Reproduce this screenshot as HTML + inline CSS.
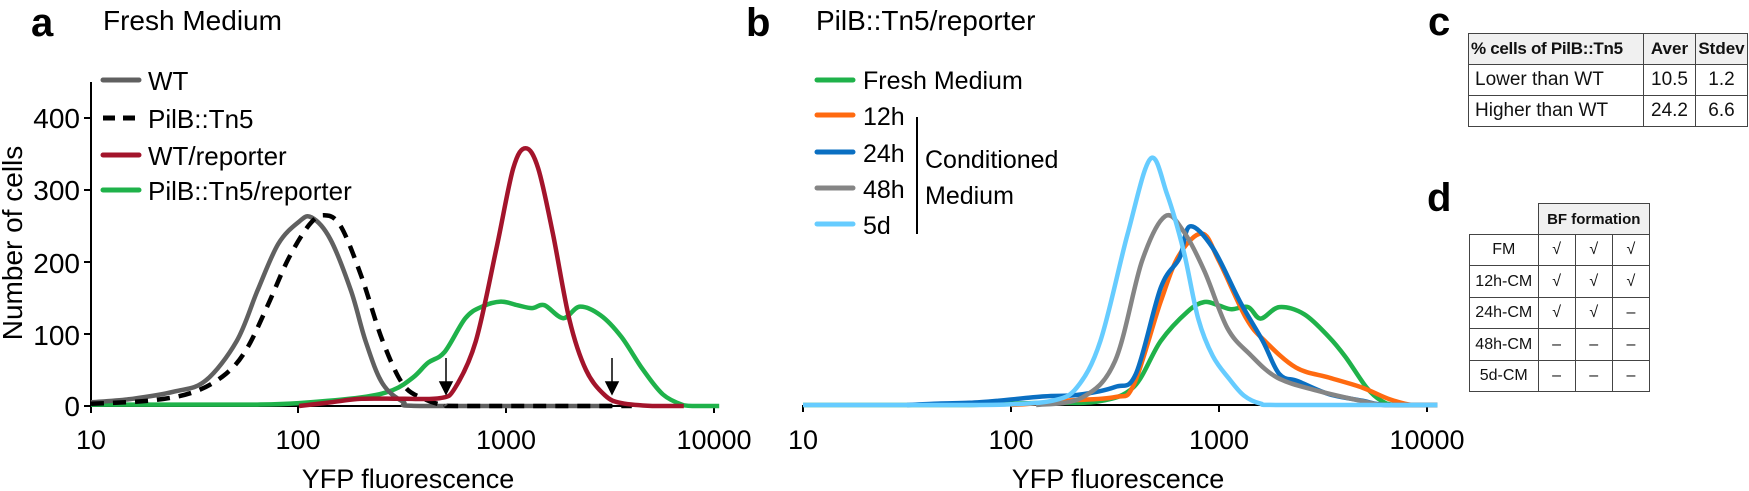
<!DOCTYPE html>
<html><head><meta charset="utf-8"><style>
html,body{margin:0;padding:0;background:#fff;}
body{width:1749px;height:491px;position:relative;overflow:hidden;font-family:"Liberation Sans",sans-serif;}
svg{position:absolute;left:0;top:0;}
table{position:absolute;border-collapse:collapse;font-family:"Liberation Sans",sans-serif;color:#111;}
td{border:1.5px solid #444;padding:0;text-align:center;}
</style></head><body>
<svg id="s" width="1749" height="491" xmlns="http://www.w3.org/2000/svg" font-family="Liberation Sans, sans-serif">
<text x="31" y="36" font-size="40" font-weight="bold">a</text>
<text x="103" y="30" font-size="28">Fresh Medium</text>
<text x="746" y="36" font-size="40" font-weight="bold">b</text>
<text x="816" y="30" font-size="28">PilB::Tn5/reporter</text>
<text x="1428" y="35" font-size="40" font-weight="bold">c</text>
<text x="1427" y="211" font-size="40" font-weight="bold">d</text>
<g stroke="#000" stroke-width="2" fill="none">
<line x1="91" y1="82" x2="91" y2="406"/>
<line x1="91" y1="406" x2="718" y2="406"/>
<line x1="803" y1="405" x2="1432" y2="405"/>
<line x1="917" y1="117" x2="917" y2="234"/>
</g>
<g id="ticks" stroke="#000" stroke-width="2"></g>
<g font-size="28" text-anchor="end">
<text x="80" y="416">0</text><text x="80" y="345">100</text><text x="80" y="273">200</text><text x="80" y="200">300</text><text x="80" y="128">400</text>
</g>
<g font-size="27" text-anchor="middle">
<text x="91" y="449">10</text><text x="298" y="449">100</text><text x="506" y="449">1000</text><text x="714" y="449">10000</text>
<text x="803" y="449">10</text><text x="1011" y="449">100</text><text x="1219" y="449">1000</text><text x="1427" y="449">10000</text>
<text x="408" y="488" font-size="27">YFP fluorescence</text>
<text x="1118" y="488" font-size="27">YFP fluorescence</text>
</g>
<text transform="translate(22,243) rotate(-90)" font-size="28" text-anchor="middle">Number of cells</text>
<g stroke-width="5" stroke-linecap="round">
<line x1="103" y1="80" x2="139" y2="80" stroke="#606060"/>
<line x1="103" y1="118" x2="139" y2="118" stroke="#000" stroke-dasharray="12,8" stroke-linecap="butt"/>
<line x1="103" y1="155" x2="139" y2="155" stroke="#a3142b"/>
<line x1="103" y1="190" x2="139" y2="190" stroke="#1fb24a"/>
<line x1="817" y1="80" x2="853" y2="80" stroke="#1fb24a"/>
<line x1="817" y1="115" x2="853" y2="115" stroke="#ff6a10"/>
<line x1="817" y1="152" x2="853" y2="152" stroke="#0a6fc2"/>
<line x1="817" y1="188" x2="853" y2="188" stroke="#858585"/>
<line x1="817" y1="224" x2="853" y2="224" stroke="#66ccff"/>
</g>
<g font-size="26">
<text x="148" y="90">WT</text><text x="148" y="128">PilB::Tn5</text><text x="148" y="165">WT/reporter</text><text x="148" y="200">PilB::Tn5/reporter</text>
</g>
<g font-size="25">
<text x="863" y="89">Fresh Medium</text><text x="863" y="125">12h</text><text x="863" y="162">24h</text><text x="863" y="198">48h</text><text x="863" y="234">5d</text>
<text x="925" y="168">Conditioned</text><text x="925" y="204">Medium</text>
</g>
<g id="curves" fill="none" stroke-width="4.5" stroke-linejoin="round"></g>
<g stroke="#000" stroke-width="1.5" fill="#000">
<line x1="446" y1="358" x2="446" y2="385"/><polygon points="440,382 452,382 446,394"/>
<line x1="612" y1="358" x2="612" y2="385"/><polygon points="606,382 618,382 612,394"/>
</g>
</svg>

<table style="left:1468px;top:33px;width:280px;">
<tr style="background:#f0f0f0;font-weight:bold;font-size:17px;height:31px;"><td style="width:172px;text-align:left;padding-left:2px;white-space:nowrap;letter-spacing:-0.3px">% cells of PilB::Tn5</td><td style="width:51px">Aver</td><td>Stdev</td></tr>
<tr style="font-size:19px;height:31px;"><td style="text-align:left;padding-left:6px">Lower than WT</td><td>10.5</td><td>1.2</td></tr>
<tr style="font-size:19px;height:31px;"><td style="text-align:left;padding-left:6px">Higher than WT</td><td>24.2</td><td>6.6</td></tr>
</table>

<table style="left:1469px;top:203px;width:181px;font-size:16px;">
<tr style="height:31px;"><td style="border:none;width:68px"></td><td colspan="3" style="background:#f0f0f0;font-weight:bold;font-size:15px">BF formation</td></tr>
<tr style="height:31px;"><td>FM</td><td>√</td><td>√</td><td>√</td></tr>
<tr style="height:32px;"><td>12h-CM</td><td>√</td><td>√</td><td>√</td></tr>
<tr style="height:31px;"><td>24h-CM</td><td>√</td><td>√</td><td>–</td></tr>
<tr style="height:32px;"><td>48h-CM</td><td>–</td><td>–</td><td>–</td></tr>
<tr style="height:31px;"><td>5d-CM</td><td>–</td><td>–</td><td>–</td></tr>
</table>

<script>
var NS="http://www.w3.org/2000/svg";
var tk=document.getElementById("ticks");
function ln(x1,y1,x2,y2){var l=document.createElementNS(NS,"line");l.setAttribute("x1",x1);l.setAttribute("y1",y1);l.setAttribute("x2",x2);l.setAttribute("y2",y2);tk.appendChild(l);}
[91,298,506,714].forEach(function(x){ln(x,406,x,413);});
[803,1011,1219,1427].forEach(function(x){ln(x,405,x,412);});
[406,334,262,190,118].forEach(function(y){ln(84,y,91,y);});
function path(pts,x0,y0,col,dash){
  var P=pts.map(function(p){return [x0+(p[0]-1)*208, y0-p[1]*0.72];});
  var d="M"+P[0][0].toFixed(1)+","+P[0][1].toFixed(1);
  for(var i=0;i<P.length-1;i++){
    var p0=P[Math.max(i-1,0)],p1=P[i],p2=P[i+1],p3=P[Math.min(i+2,P.length-1)];
    var c1=[p1[0]+(p2[0]-p0[0])/6,p1[1]+(p2[1]-p0[1])/6];
    var c2=[p2[0]-(p3[0]-p1[0])/6,p2[1]-(p3[1]-p1[1])/6];
    c1[1]=Math.min(c1[1],y0);c2[1]=Math.min(c2[1],y0);
    d+="C"+c1.map(function(v){return v.toFixed(1)}).join(",")+" "+c2.map(function(v){return v.toFixed(1)}).join(",")+" "+p2[0].toFixed(1)+","+p2[1].toFixed(1);
  }
  var e=document.createElementNS(NS,"path");e.setAttribute("d",d);e.setAttribute("stroke",col);
  if(dash){e.setAttribute("stroke-dasharray",dash);}
  document.getElementById("curves").appendChild(e);
}
var A=406,B=405;
// panel a
path([[1,2],[1.4,2],[1.8,2],[2.0,4],[2.3,12],[2.45,22],[2.55,40],[2.62,60],[2.7,75],[2.8,122],[2.88,138],[2.97,145],[3.05,140],[3.12,136],[3.18,140],[3.27,122],[3.35,138],[3.45,126],[3.55,96],[3.65,52],[3.75,16],[3.85,1],[3.9,0],[4.02,0]],91,A,"#1fb24a");
path([[1,5],[1.2,10],[1.4,20],[1.55,35],[1.7,90],[1.8,160],[1.9,225],[2.0,256],[2.06,262],[2.15,232],[2.25,160],[2.32,90],[2.4,32],[2.5,6],[2.6,0],[3.5,0]],91,A,"#606060");
path([[1,3],[1.3,8],[1.5,20],[1.65,45],[1.75,80],[1.85,140],[1.95,205],[2.05,252],[2.12,265],[2.2,250],[2.3,180],[2.4,92],[2.5,30],[2.6,10],[2.7,1],[2.8,0],[3.6,0]],91,A,"#000","13,9");
path([[2.0,0],[2.15,5],[2.3,10],[2.5,10],[2.68,11],[2.75,25],[2.85,90],[2.95,220],[3.03,330],[3.09,358],[3.15,330],[3.22,240],[3.3,120],[3.38,50],[3.47,15],[3.55,4],[3.7,0],[3.85,0]],91,A,"#a3142b");
// panel b
path([[1,0],[1.6,0],[1.8,0],[2.0,2],[2.18,3],[2.42,5],[2.59,25],[2.72,89],[2.85,130],[2.93,143],[3.0,138],[3.06,133],[3.14,136],[3.2,120],[3.29,136],[3.41,126],[3.53,94],[3.61,66],[3.71,24],[3.78,6],[3.85,0],[4.05,0]],803,B,"#1fb24a");
path([[2.0,0],[2.1,2],[2.26,6],[2.5,11],[2.59,28],[2.72,144],[2.81,209],[2.92,238],[3.0,200],[3.13,121],[3.22,89],[3.37,52],[3.53,38],[3.69,24],[3.82,8],[3.93,0],[4.05,0]],803,B,"#ff6a10");
path([[1.5,0],[1.65,2],[1.8,3],[1.94,6],[2.16,12],[2.32,14],[2.5,25],[2.6,43],[2.72,163],[2.81,204],[2.86,248],[2.97,218],[3.1,144],[3.21,89],[3.29,43],[3.38,33],[3.53,15],[3.69,6],[3.8,0],[4.05,0]],803,B,"#0a6fc2");
path([[2.12,0],[2.34,10],[2.5,61],[2.63,200],[2.74,262],[2.83,241],[2.93,186],[3.04,107],[3.15,70],[3.28,38],[3.47,20],[3.71,4],[3.8,0],[4.05,0]],803,B,"#858585");
path([[1,0],[1.8,0],[2.0,1],[2.2,6],[2.316,24],[2.43,89],[2.56,237],[2.67,342],[2.75,293],[2.83,214],[2.9,120],[2.97,68],[3.05,36],[3.12,13],[3.2,2],[3.3,0],[4.05,0]],803,B,"#66ccff");
</script>
</body></html>
